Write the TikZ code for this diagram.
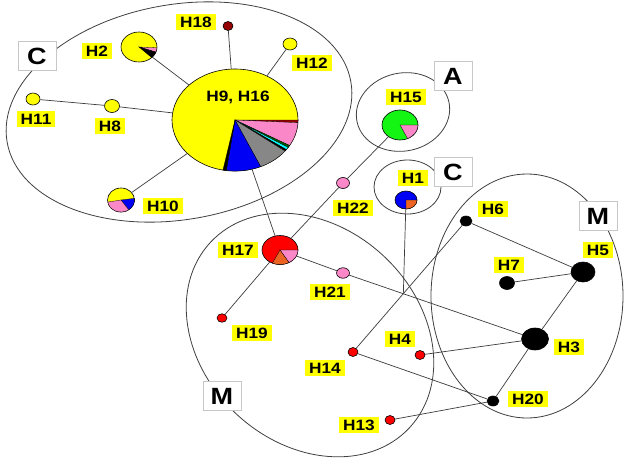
\documentclass[tikz,border=0pt]{standalone}
\usepackage{fontspec}
\usetikzlibrary{shapes.geometric}
\newfontfamily\labfont{Liberation Sans}[FakeStretch=1.15]
\definecolor{hyellow}{RGB}{255,255,0}
\definecolor{hpink}{RGB}{250,135,200}
\definecolor{hblue}{RGB}{0,0,245}
\definecolor{hgray}{RGB}{135,135,135}
\definecolor{hcyan}{RGB}{0,255,255}
\definecolor{hdkgreen}{RGB}{0,90,0}
\definecolor{hdkred}{RGB}{150,0,0}
\definecolor{hgreen}{RGB}{20,245,20}
\definecolor{hred}{RGB}{255,0,0}
\definecolor{horange}{RGB}{235,100,35}
\definecolor{hline}{RGB}{60,60,60}
\newcommand\hpslice[6]{%
  \begin{scope}[shift={(#1.center)}, xscale=#2, yscale=#3]
    \filldraw[fill=#6, draw=black, line width=0.3pt] (0,0) -- (#4:1) arc[start angle=#4, end angle=#5, radius=1] -- cycle;
  \end{scope}}
\tikzset{
  hap/.style={ellipse, draw=black, line width=0.6pt, inner sep=0pt},
  edge/.style={draw=hline, line width=0.7pt},
  grpline/.style={draw=black!75, line width=0.8pt},
  lab/.style={fill=hyellow, inner xsep=4pt, inner ysep=3pt, text height=10.74pt, text depth=0pt,
    font=\labfont\bfseries\fontsize{15}{15}\selectfont},
  grpbox/.style={draw=black!22, fill=white, line width=0.8pt, minimum width=38pt, minimum height=29pt,
    inner sep=0pt, font=\labfont\bfseries\fontsize{23.5}{23.5}\selectfont}
}
\begin{document}
\begin{tikzpicture}[x=1pt, y=-1pt]
\useasboundingbox (0,0) rectangle (624,461);
\fill[white] (0,0) rectangle (624,461);
% group ellipses
\draw[grpline, rotate around={10:(179,112)}] (179,112) ellipse [x radius=174.5, y radius=107.5];
\draw[grpline, rotate around={12:(403,112)}] (403,112) ellipse [x radius=47, y radius=39];
\draw[grpline] (407.5,187) ellipse [x radius=33.5, y radius=27];
\draw[grpline, rotate around={-43:(310,335)}] (310,335) ellipse [x radius=136, y radius=108];
\draw[grpline] (527,296) ellipse [x radius=96, y radius=122];
% group boxes
\node[grpbox] (gC1) at (37,56) {C};
\node[grpbox] (gA) at (453,76) {A};
\node[grpbox] (gC2) at (453,172) {C};
\node[grpbox] (gM1) at (222,396) {M};
\node[grpbox] (gM2) at (598,216) {M};
% haplotype nodes
\node[hap, minimum width=126pt, minimum height=102pt, fill=hyellow] (H9) at (235,120) {};
\node[hap, minimum width=36pt, minimum height=30pt, fill=hyellow] (H2) at (139,47) {};
\node[hap, minimum width=27pt, minimum height=24pt, fill=hyellow] (H10) at (121,200) {};
\node[hap, minimum width=10pt, minimum height=9pt, fill=hdkred] (H18) at (228,26) {};
\node[hap, minimum width=14pt, minimum height=12pt, fill=hyellow] (H12) at (290,44) {};
\node[hap, minimum width=14pt, minimum height=12pt, fill=hyellow] (H11) at (33,99) {};
\node[hap, minimum width=15pt, minimum height=13pt, fill=hyellow] (H8) at (112,106) {};
\node[hap, minimum width=36pt, minimum height=30pt, fill=hgreen] (H15) at (400,125) {};
\node[hap, minimum width=22pt, minimum height=18pt, fill=hblue] (H1) at (406,200) {};
\node[hap, minimum width=13pt, minimum height=11pt, fill=hpink] (H22) at (343,183) {};
\node[hap, minimum width=36pt, minimum height=29pt, fill=hred] (H17) at (280,250) {};
\node[hap, minimum width=10pt, minimum height=8.5pt, fill=hred] (H19) at (222,318) {};
\node[hap, minimum width=13pt, minimum height=10.5pt, fill=hpink] (H21) at (343,273) {};
\node[hap, minimum width=10pt, minimum height=9pt, fill=hred] (H14) at (353,352) {};
\node[hap, minimum width=10pt, minimum height=9pt, fill=hred] (H4) at (420,355) {};
\node[hap, minimum width=10pt, minimum height=9pt, fill=hred] (H13) at (390,420) {};
\node[hap, minimum width=12pt, minimum height=10pt, fill=black] (H6) at (466,221) {};
\node[hap, minimum width=24pt, minimum height=20pt, fill=black] (H5) at (583,272) {};
\node[hap, minimum width=15pt, minimum height=13pt, fill=black] (H7) at (507,283) {};
\node[hap, minimum width=27pt, minimum height=22pt, fill=black] (H3) at (535,339) {};
\node[hap, minimum width=12pt, minimum height=10pt, fill=black] (H20) at (493,401) {};
% pie slices
\hpslice{H9}{63}{51}{0}{3}{hdkred}
\hpslice{H9}{63}{51}{3}{30}{hpink}
\hpslice{H9}{63}{51}{30}{32.5}{hdkgreen}
\hpslice{H9}{63}{51}{32.5}{35.5}{hcyan}
\hpslice{H9}{63}{51}{35.5}{37.5}{black}
\hpslice{H9}{63}{51}{37.5}{66}{hgray}
\hpslice{H9}{63}{51}{66}{98}{hblue}
\hpslice{H9}{63}{51}{98}{101}{black}
\hpslice{H2}{18}{15}{3}{20}{hpink}
\hpslice{H2}{18}{15}{20}{45}{black}
\hpslice{H10}{13.5}{12}{-8}{55}{hblue}
\hpslice{H10}{13.5}{12}{55}{170}{hpink}
\hpslice{H17}{18}{14.5}{0}{60}{hpink}
\hpslice{H17}{18}{14.5}{60}{115}{horange}
\hpslice{H1}{11}{9}{0}{90}{horange}
\hpslice{H15}{18}{15}{0}{65}{hpink}
% connectors
\coordinate (J) at (intersection of H14--H6 and H21--H3);
\draw[edge] (H18) -- (H9);
\draw[edge] (H12) -- (H9);
\draw[edge] (H2) -- (H9);
\draw[edge] (H11) -- (H8);
\draw[edge] (H8) -- (H9);
\draw[edge] (H10) -- (H9);
\draw[edge] (H9) -- (H17);
\draw[edge] (H15) -- (H22);
\draw[edge] (H22) -- (H17);
\draw[edge] (H17) -- (H19);
\draw[edge] (H17) -- (H21);
\draw[edge] (H21) -- (H3);
\draw[edge] (H1) -- (J);
\draw[edge] (H14) -- (H6);
\draw[edge] (H14) -- (H20);
\draw[edge] (H4) -- (H3);
\draw[edge] (H13) -- (H20);
\draw[edge] (H6) -- (H5);
\draw[edge] (H7) -- (H5);
\draw[edge] (H5) -- (H3);
\draw[edge] (H3) -- (H20);
% labels
\node[font=\labfont\bfseries\fontsize{15}{15}\selectfont] (lH9) at (238,97) {H9, H16};
\node[lab] (lH18) at (196,22) {H18};
\node[lab] (lH12) at (312,63) {H12};
\node[lab] (lH2) at (97,51) {H2};
\node[lab] (lH11) at (36,119) {H11};
\node[lab] (lH8) at (110,126) {H8};
\node[lab] (lH10) at (163,206) {H10};
\node[lab] (lH15) at (406,97) {H15};
\node[lab] (lH1) at (413,178) {H1};
\node[lab] (lH22) at (353,208) {H22};
\node[lab] (lH17) at (238,250) {H17};
\node[lab] (lH21) at (330,292) {H21};
\node[lab] (lH19) at (252,333) {H19};
\node[lab] (lH6) at (493,209) {H6};
\node[lab] (lH5) at (598,250) {H5};
\node[lab] (lH7) at (509,265) {H7};
\node[lab] (lH3) at (569,347) {H3};
\node[lab] (lH4) at (400,339) {H4};
\node[lab] (lH14) at (325,368) {H14};
\node[lab] (lH20) at (528,399) {H20};
\node[lab] (lH13) at (359,425) {H13};
\end{tikzpicture}
\end{document}
